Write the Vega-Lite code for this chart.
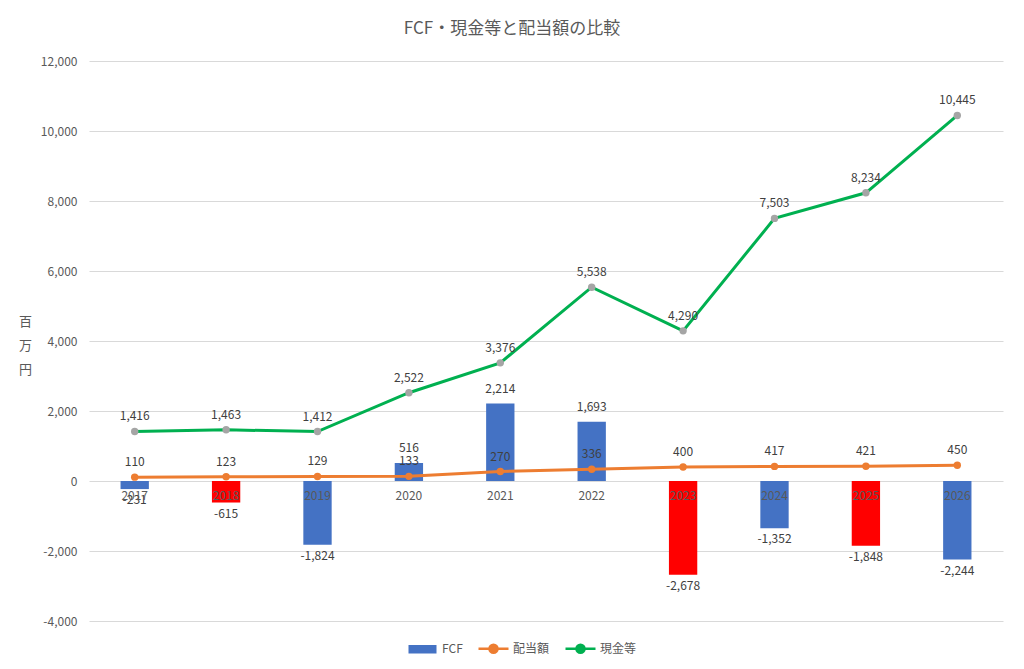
{
  "$schema": "https://vega.github.io/schema/vega-lite/v6.json",
  "autosize": "none",
  "padding": {"left": 89, "top": 61, "right": 21, "bottom": 48},
  "width": 914,
  "height": 560,
  "background": "white",
  "title": {
    "text": "FCF・現金等と配当額の比較",
    "font": "Noto Sans CJK JP",
    "fontSize": 17,
    "fontWeight": "normal",
    "color": "#595959",
    "offset": 17,
    "dx": -34
  },
  "config": {
    "font": "Noto Sans CJK JP",
    "locale": {"number": {"decimal": ".", "thousands": ",", "grouping": [3], "currency": ["", ""], "minus": "-"}},
    "view": {"stroke": "transparent"},
    "axis": {"labelColor": "#595959", "labelFontSize": 12, "titleColor": "#595959"}
  },
  "data": {
    "values": [
      {"year": "2017", "series": "FCF", "value": -231},
      {"year": "2018", "series": "FCF", "value": -615},
      {"year": "2019", "series": "FCF", "value": -1824},
      {"year": "2020", "series": "FCF", "value": 516},
      {"year": "2021", "series": "FCF", "value": 2214},
      {"year": "2022", "series": "FCF", "value": 1693},
      {"year": "2023", "series": "FCF", "value": -2678},
      {"year": "2024", "series": "FCF", "value": -1352},
      {"year": "2025", "series": "FCF", "value": -1848},
      {"year": "2026", "series": "FCF", "value": -2244},
      {"year": "2017", "series": "配当額", "value": 110},
      {"year": "2018", "series": "配当額", "value": 123},
      {"year": "2019", "series": "配当額", "value": 129},
      {"year": "2020", "series": "配当額", "value": 133},
      {"year": "2021", "series": "配当額", "value": 270},
      {"year": "2022", "series": "配当額", "value": 336},
      {"year": "2023", "series": "配当額", "value": 400},
      {"year": "2024", "series": "配当額", "value": 417},
      {"year": "2025", "series": "配当額", "value": 421},
      {"year": "2026", "series": "配当額", "value": 450},
      {"year": "2017", "series": "現金等", "value": 1416},
      {"year": "2018", "series": "現金等", "value": 1463},
      {"year": "2019", "series": "現金等", "value": 1412},
      {"year": "2020", "series": "現金等", "value": 2522},
      {"year": "2021", "series": "現金等", "value": 3376},
      {"year": "2022", "series": "現金等", "value": 5538},
      {"year": "2023", "series": "現金等", "value": 4290},
      {"year": "2024", "series": "現金等", "value": 7503},
      {"year": "2025", "series": "現金等", "value": 8234},
      {"year": "2026", "series": "現金等", "value": 10445}
    ]
  },
  "encoding": {
    "x": {
      "field": "year",
      "type": "ordinal",
      "title": null,
      "scale": {"paddingInner": 0.69, "paddingOuter": 0.345},
      "axis": {
        "orient": "bottom",
        "offset": -140,
        "domain": false,
        "ticks": false,
        "grid": false,
        "labelAngle": 0,
        "labelPadding": 9,
        "zindex": 2
      }
    },
    "y": {
      "field": "value",
      "type": "quantitative",
      "scale": {"domain": [-4000, 12000], "nice": false},
      "title": ["百", "万", "円"],
      "axis": {
        "values": [-4000, -2000, 0, 2000, 4000, 6000, 8000, 10000, 12000],
        "format": ",d",
        "domain": false,
        "ticks": false,
        "gridColor": "#D9D9D9",
        "labelPadding": 12,
        "titleAngle": 0,
        "titleFontSize": 13,
        "titleFontWeight": "normal",
        "titleLineHeight": 24,
        "titleAlign": "center",
        "titleBaseline": "middle",
        "titleX": -64,
        "titleY": 260
      }
    }
  },
  "layer": [
    {
      "transform": [{"filter": "datum.series === 'FCF'"}],
      "mark": {"type": "bar"},
      "encoding": {
        "color": {
          "condition": {"test": "indexof(['2018','2023','2025'], datum.year) >= 0", "value": "#FF0000"},
          "field": "series",
          "type": "nominal",
          "scale": {"domain": ["FCF", "配当額", "現金等"], "range": ["#4472C4", "#ED7D31", "#00B050"]},
          "legend": {
            "orient": "none",
            "direction": "horizontal",
            "legendX": 317,
            "legendY": 571,
            "title": null,
            "labelFontSize": 12,
            "labelColor": "#595959",
            "labelOffset": 3,
            "symbolSize": 900,
            "symbolStrokeWidth": 2.5,
            "columnPadding": 10,
            "symbolType": {"expr": "datum.value === 'FCF' ? 'M-0.85,-0.2H0.85V0.2H-0.85Z' : 'M-1,0L-0.27,0A0.27,0.27,0,1,1,0.27,0A0.27,0.27,0,1,1,-0.27,0M0.27,0L1,0'"}
          }
        }
      }
    },
    {
      "transform": [{"filter": "datum.series !== 'FCF'"}],
      "mark": {"type": "line", "strokeWidth": 3},
      "encoding": {
        "color": {"field": "series", "type": "nominal"},
        "detail": {"field": "series"}
      }
    },
    {
      "transform": [{"filter": "datum.series !== 'FCF'"}],
      "mark": {"type": "point", "filled": true, "size": 55, "opacity": 1},
      "encoding": {
        "color": {
          "condition": {"test": "datum.series === '現金等'", "value": "#A5A5A5"},
          "field": "series",
          "type": "nominal"
        }
      }
    },
    {
      "transform": [{"filter": "datum.series !== 'FCF' || datum.value > 0"}],
      "mark": {"type": "text", "baseline": "bottom", "dy": -8, "fontSize": 12, "color": "#404040"},
      "encoding": {"text": {"field": "value", "type": "quantitative", "format": ",d"}}
    },
    {
      "transform": [{"filter": "datum.series === 'FCF' && datum.value < 0"}],
      "mark": {"type": "text", "baseline": "top", "dy": 6, "fontSize": 12, "color": "#404040"},
      "encoding": {"text": {"field": "value", "type": "quantitative", "format": ",d"}}
    }
  ]
}
